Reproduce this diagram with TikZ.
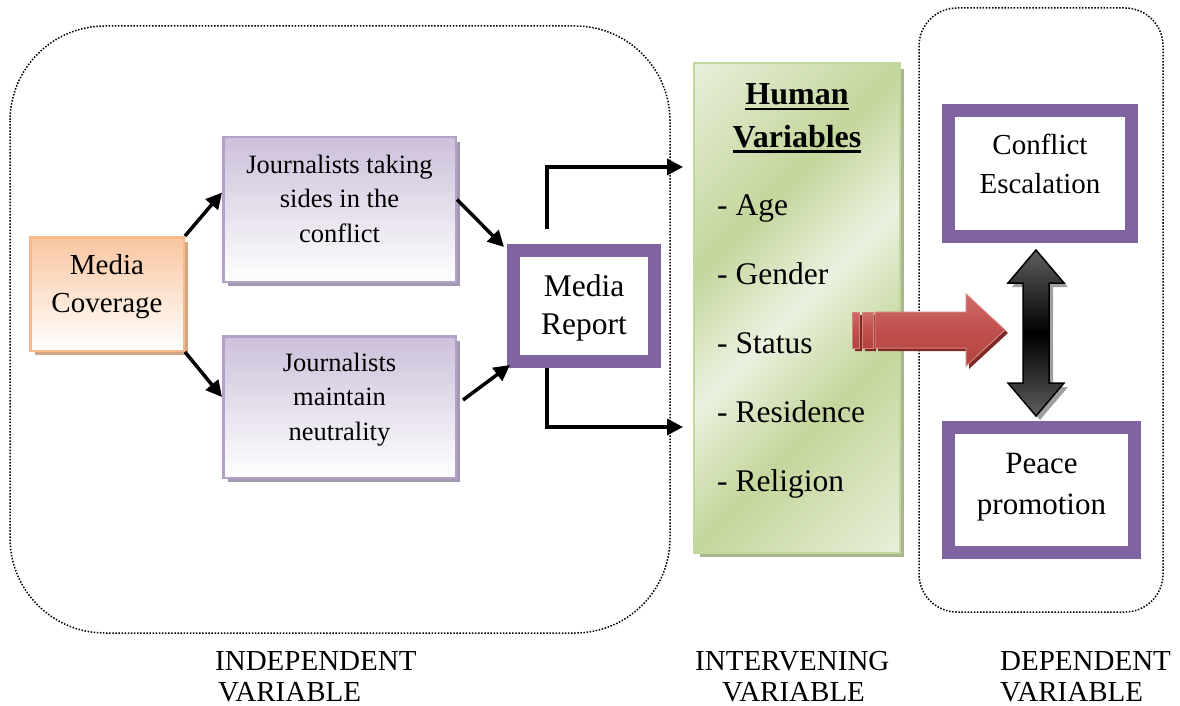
\documentclass[tikz,border=0pt]{standalone}
\usepackage{fontspec}
\setmainfont{Liberation Serif}
\usetikzlibrary{arrows.meta,shadows}

\definecolor{peach}{HTML}{F9C6A0}
\definecolor{peachB}{HTML}{F8BA8C}
\definecolor{peachS}{HTML}{D3A786}
\definecolor{lilac}{HTML}{CCC0DA}
\definecolor{lilacB}{HTML}{B3A2C7}
\definecolor{lilacS}{HTML}{A398B2}
\definecolor{plum}{HTML}{8064A2}
\definecolor{gLight}{HTML}{EBF1DF}
\definecolor{gDark}{HTML}{C3D69B}
\definecolor{gShadow}{HTML}{A8B68D}
\definecolor{redA}{HTML}{CF6B68}
\definecolor{redB}{HTML}{C0504D}
\definecolor{redC}{HTML}{B4433F}
\definecolor{redE}{HTML}{D7807E}
\definecolor{redS}{HTML}{7E2B28}
\definecolor{greyA}{HTML}{5E5E5E}
\definecolor{greyS}{HTML}{A0A0A0}

\pgfdeclarehorizontalshading{greenband}{100bp}{color(0bp)=(gLight); color(34bp)=(gLight); color(44bp)=(gDark); color(50bp)=(gLight); color(56bp)=(gDark); color(66bp)=(gLight); color(100bp)=(gLight)}

\newcommand\stack[1]{\begin{tabular}[t]{@{}c@{}}#1\end{tabular}}
\newcommand\fsz[2]{\fontsize{#1}{#2}\selectfont}
\newcommand\ulword[1]{\setbox0\hbox{#1}\rlap{\rule[-5.5pt]{\wd0}{2.4pt}}\box0}

\begin{document}
\begin{tikzpicture}[x=1pt,y=-1pt,
  frame/.style={draw=black, line width=1.5pt, dash pattern=on 1.5pt off 1.6pt},
  flow/.style={line width=3.5pt, -{Triangle[length=16pt,width=16pt]}},
  txt/.style={inner sep=0pt, anchor=base},
  orangebox/.style={draw=peachB, line width=2.5pt, top color=peach, bottom color=white,
    minimum width=153.5pt, minimum height=113.5pt, inner sep=0pt,
    general shadow={fill=peachS, shadow xshift=4.5pt, shadow yshift=-4.5pt}},
  lilacbox/.style={draw=lilacB, line width=2.5pt, top color=lilac, bottom color=white,
    minimum width=232.5pt, inner sep=0pt,
    general shadow={fill=lilacS, shadow xshift=4.5pt, shadow yshift=-4.5pt}},
  plumbox/.style={draw=plum, line width=13pt, fill=white, inner sep=0pt},
  greenbox/.style={draw=gDark, line width=2pt, fill=gLight, inner sep=0pt,
    minimum width=204pt, minimum height=488pt,
    general shadow={fill=gShadow, shadow xshift=5pt, shadow yshift=-5pt}},
  redfill/.style={top color=redA, bottom color=redC, middle color=redB, draw=redE, line width=1pt},
]
\useasboundingbox (0,0) rectangle (1180,706);

% grouping frames
\draw[frame, rounded corners=95pt] (10,26) rectangle (670,633);
\draw[frame, rounded corners=38pt] (919,8) rectangle (1163,612);

% independent side
\node[orangebox] (mc) at (107,294) {};
\node[txt, font=\fsz{29}{38.5}] (mct) at (107,274) {\stack{Media\\Coverage}};

\node[lilacbox, minimum height=144.5pt] (jt) at (339.5,209.5) {};
\node[txt, font=\fsz{26.5}{34.5}] (jtt) at (339.5,173) {\stack{Journalists taking\\sides in the\\conflict}};

\node[lilacbox, minimum height=141.5pt] (jm) at (339.5,407) {};
\node[txt, font=\fsz{26.5}{34.5}] (jmt) at (339.5,371) {\stack{Journalists\\maintain\\neutrality}};

\node[plumbox, minimum width=141pt, minimum height=111pt] (mr) at (584,306) {};
\node[txt, font=\fsz{31.5}{38}] (mrt) at (584,296) {\stack{Media\\Report}};

% intervening variables
\node[greenbox] (hv) at (797,308) {};
\begin{scope}
  \clip (hv.north west) rectangle (hv.south east);
  \begin{scope}[transform canvas={rotate around={-45:(797,308)}}]
    \shade[shading=greenband] (397,-92) rectangle (1197,708);
  \end{scope}
\end{scope}
\draw[draw=gDark, line width=2pt] (hv.north west) rectangle (hv.south east);

\node[txt, font=\fsz{32}{43}\bfseries] (hv1) at (797,105) {\ulword{Human}};
\node[txt, font=\fsz{32}{43}\bfseries] (hv2) at (797,147) {\ulword{Variables}};
\foreach \item [count=\i from 0] in {Age,Gender,Status,Residence,Religion}
  \node[inner sep=0pt, anchor=base west, font=\fsz{31.5}{38}] (it\i) at (717,215+69*\i) {- \item};

% dependent outcomes
\node[plumbox, minimum width=183pt, minimum height=126pt] (ce) at (1040,173.5) {};
\node[txt, font=\fsz{29}{39}] (cet) at (1040,154) {\stack{Conflict\\Escalation}};
\node[plumbox, minimum width=186pt, minimum height=125pt] (pp) at (1041.5,490) {};
\node[txt, font=\fsz{31}{41}] (ppt) at (1041.5,473) {\stack{Peace\\promotion}};

% connectors
\draw[flow] (mc.north east) -- ([yshift=17pt]jt.west);
\draw[flow] (mc.south east) -- ([yshift=10pt]jm.west);
\draw[flow] ([yshift=10pt]jt.east) -- ([shift={(-3pt,-3pt)}]mr.north west);
\draw[flow] ([shift={(6pt,7pt)}]jm.east) -- ([shift={(3pt,3pt)}]mr.south west);
\draw[flow] ([xshift=-37pt,yshift=15pt]mr.north) |- ([xshift=-11pt,yshift=141pt]hv.west);
\draw[flow] ([xshift=-37pt]mr.south) |- ([xshift=-11pt,yshift=-119pt]hv.west);

% red block arrow with striped tail
\begin{scope}[shift={(3,3)}]
  \fill[redS] (875,312) -- (966,312) -- (966,294) -- (1005,330) -- (966,366) -- (966,348) -- (875,348) -- cycle
    (852,312) rectangle (859,348) (862,312) rectangle (873,348);
\end{scope}
\shade[redfill]
  (875,312) -- (966,312) -- (966,294) -- (1005,330) -- (966,366) -- (966,348) -- (875,348) -- cycle;
\shade[redfill] (852,312) rectangle (859,348);
\shade[redfill] (862,312) rectangle (873,348);

% black double arrow
\begin{scope}[shift={(4,4)}]
  \fill[greyS] (1036,250) -- (1064,283) -- (1049,283) -- (1049,383) -- (1064,383) -- (1036,416)
    -- (1008,383) -- (1023,383) -- (1023,283) -- (1008,283) -- cycle;
\end{scope}
\shade[top color=greyA, bottom color=greyA, middle color=black, draw=black, line width=1.5pt]
  (1036,250) -- (1064,283) -- (1049,283) -- (1049,383) -- (1064,383) -- (1036,416)
  -- (1008,383) -- (1023,383) -- (1023,283) -- (1008,283) -- cycle;

% column captions
\node[inner sep=0pt, anchor=base west, font=\fsz{29}{32}] (c1a) at (215,670) {INDEPENDENT};
\node[inner sep=0pt, anchor=base west, font=\fsz{29}{32}] (c1b) at (218,701) {VARIABLE};
\node[inner sep=0pt, anchor=base west, font=\fsz{29}{32}] (c2a) at (695,670) {INTERVENING};
\node[inner sep=0pt, anchor=base, font=\fsz{29}{32}] (c2b) at (793.5,701) {VARIABLE};
\node[inner sep=0pt, anchor=base west, font=\fsz{29}{32}] (c3a) at (1000,670) {DEPENDENT};
\node[inner sep=0pt, anchor=base west, font=\fsz{29}{32}] (c3b) at (1000,701) {VARIABLE};
\end{tikzpicture}
\end{document}
